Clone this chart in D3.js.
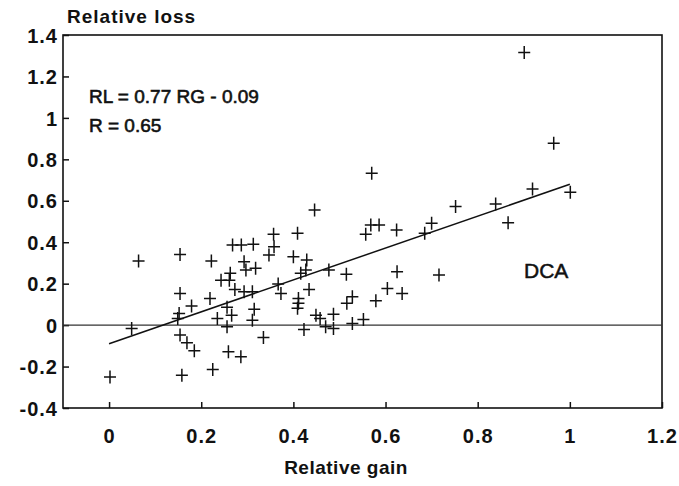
<!DOCTYPE html>
<html>
<head>
<meta charset="utf-8">
<script src="https://cdn.jsdelivr.net/npm/d3@7/dist/d3.min.js"></script>
<style>
  html, body { margin: 0; padding: 0; background: #fff; }
  svg { display: block; }
  text { font-family: "Liberation Sans", Arial, Helvetica, sans-serif; fill: #111; }
</style>
</head>
<body>
<svg id="chart" width="679" height="486"></svg>
<script>
// ---- data ----
const gain = [0.002,0.049,0.064,0.154,0.154,0.179,0.152,0.149,0.154,0.169,0.185,0.158,
  0.222,0.219,0.235,0.256,0.266,0.256,0.225,0.259,0.286,0.243,0.261,0.263,0.273,0.293,0.311,
  0.268,0.287,0.313,0.293,0.297,0.318,0.315,0.311,0.335,0.358,0.347,0.357,0.367,0.373,0.400,
  0.429,0.409,0.416,0.427,0.434,0.411,0.411,0.409,0.423,0.446,0.449,0.458,0.487,0.470,0.487,
  0.477,0.515,0.528,0.516,0.528,0.552,0.579,0.604,0.636,0.625,0.716,0.557,0.568,0.586,0.624,
  0.570,0.685,0.700,0.752,0.839,0.866,0.919,1.001,0.965,0.901];
const loss = [-0.250,-0.016,0.309,0.341,0.153,0.092,0.056,0.032,-0.048,-0.085,-0.124,-0.242,
  0.309,0.129,0.032,0.086,0.048,-0.008,-0.214,-0.129,-0.153,0.217,0.217,0.250,0.172,0.161,0.161,
  0.386,0.386,0.390,0.306,0.266,0.274,0.076,0.024,-0.060,0.378,0.338,0.438,0.198,0.153,0.330,
  0.314,0.443,0.250,0.266,0.172,0.129,0.105,0.081,-0.021,0.556,0.048,0.032,0.053,-0.008,-0.016,
  0.266,0.246,0.137,0.105,0.008,0.027,0.118,0.177,0.153,0.258,0.242,0.438,0.483,0.483,0.459,
  0.733,0.443,0.491,0.572,0.585,0.494,0.657,0.641,0.878,1.315];
const fitSlope = 0.77;
const fitIntercept = -0.09;
const fitRange = [0, 1];
const xTicks = [0, 0.2, 0.4, 0.6, 0.8, 1, 1.2];
const xTickLabels = ["0", "0.2", "0.4", "0.6", "0.8", "1", "1.2"];
const yTicks = [-0.4, -0.2, 0, 0.2, 0.4, 0.6, 0.8, 1, 1.2, 1.4];
const yTickLabels = ["-0.4", "-0.2", "0", "0.2", "0.4", "0.6", "0.8", "1", "1.2", "1.4"];
const xTitle = "Relative gain";
const yTitle = "Relative loss";
const eqLine1 = "RL = 0.77 RG - 0.09";
const eqLine2 = "R = 0.65";
const panelLabel = "DCA";

// ---- layout ----
const L = 63, R = 662, T = 35, B = 408;
const svg = d3.select("#chart");
const x = d3.scaleLinear().domain([-0.1, 1.2]).range([L, R]);
const y = d3.scaleLinear().domain([-0.4, 1.4]).range([B, T]);

// frame
svg.append("rect").attr("x", L).attr("y", T).attr("width", R - L).attr("height", B - T)
  .attr("fill", "none").attr("stroke", "#111").attr("stroke-width", 1.6);

// axes (ticks pointing inward)
const ax = svg.append("g").attr("transform", `translate(0,${B})`)
  .call(d3.axisBottom(x).tickValues(xTicks).tickSize(-6).tickPadding(18)
    .tickFormat((d, i) => xTickLabels[i]));
const ay = svg.append("g").attr("transform", `translate(${L},0)`)
  .call(d3.axisLeft(y).tickValues(yTicks).tickSize(-6).tickPadding(5)
    .tickFormat((d, i) => yTickLabels[i]));
[ax, ay].forEach(g => {
  g.select(".domain").remove();
  g.selectAll(".tick line").attr("stroke", "#111").attr("stroke-width", 1.5);
  g.selectAll(".tick text").attr("fill", "#111")
    .style("font-family", '"Liberation Sans", Arial, sans-serif')
    .style("font-size", "20px").style("font-weight", "bold").style("letter-spacing", "1px");
});
ax.selectAll(".tick text").attr("dy", null).attr("y", 35);
ay.selectAll(".tick text").attr("dy", "0.36em");

// zero line
svg.append("line").attr("x1", L).attr("x2", R).attr("y1", y(0)).attr("y2", y(0))
  .attr("stroke", "#333").attr("stroke-width", 1.1);

// regression line
svg.append("line")
  .attr("x1", x(fitRange[0])).attr("y1", y(fitSlope * fitRange[0] + fitIntercept))
  .attr("x2", x(fitRange[1])).attr("y2", y(fitSlope * fitRange[1] + fitIntercept))
  .attr("stroke", "#111").attr("stroke-width", 1.5);

// points as crosses
svg.append("g").selectAll("path").data(gain.map((g, i) => [g, loss[i]])).join("path")
  .attr("transform", d => `translate(${x(d[0])},${y(d[1])})`)
  .attr("d", "M-6,0H6M0,-6.5V6.5")
  .attr("stroke", "#111").attr("stroke-width", 1.5).attr("fill", "none");

// texts
svg.append("text").attr("x", 67).attr("y", 23).text(yTitle)
  .style("font-size", "19px").style("font-weight", "bold").style("letter-spacing", "1px");
svg.append("text").attr("x", 346).attr("y", 474).attr("text-anchor", "middle").text(xTitle)
  .style("font-size", "19px").style("font-weight", "bold").style("letter-spacing", "0.5px");
svg.append("text").attr("x", 89).attr("y", 103).text(eqLine1).style("font-size", "19px")
  .attr("stroke", "#111").attr("stroke-width", 0.6);
svg.append("text").attr("x", 89).attr("y", 132).text(eqLine2).style("font-size", "19px")
  .attr("stroke", "#111").attr("stroke-width", 0.6);
svg.append("text").attr("x", 524).attr("y", 278).text(panelLabel).style("font-size", "21px")
  .attr("stroke", "#111").attr("stroke-width", 0.5);
</script>
</body>
</html>
